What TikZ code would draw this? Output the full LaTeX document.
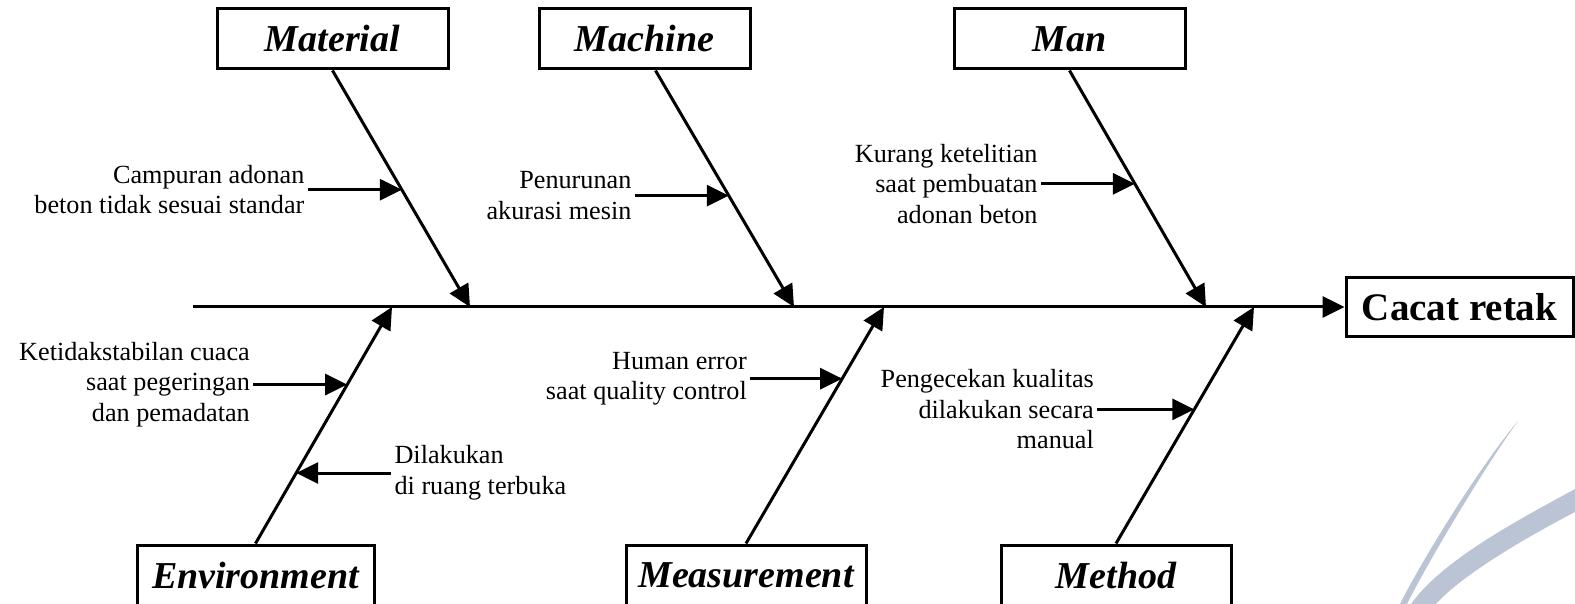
\documentclass[tikz,border=0pt]{standalone}
\usepackage{fontspec}
\setmainfont{Liberation Serif}
\usetikzlibrary{arrows.meta,calc}
\definecolor{wm}{RGB}{186,196,212}
\begin{document}
\begin{tikzpicture}[x=0.5pt,y=-0.5pt,
  box/.style={draw,line width=1.5pt,inner sep=0pt,minimum height=30pt,font=\fontsize{19}{23}\selectfont\bfseries\itshape},
  lbl/.style={inner xsep=1.5pt,inner ysep=0pt,font=\fontsize{13.1}{15.3}\selectfont},
  arr/.style={line width=1.5pt,-{Triangle[length=11pt,width=10.5pt]}}]
\useasboundingbox (0,0) rectangle (1575,604);
% watermark
\fill[wm] (1518,421) .. controls (1480,466) and (1422,560) .. (1400,604) -- (1407,604) .. controls (1428,562) and (1484,468) .. (1518,421) -- cycle;
\fill[wm] (1575,489) .. controls (1520,519) and (1442,560) .. (1411,604) -- (1436,604) .. controls (1462,575) and (1525,538) .. (1575,512) -- cycle;

% head and spine
\node[box,minimum width=113.5pt,minimum height=29.5pt,font=\fontsize{19.5}{23}\selectfont\bfseries] (cacat) at (1459.5,307) {Cacat retak};
\coordinate (spS) at (193,307);
\draw[arr] (spS) -- (cacat.west);

% category boxes
\node[box,minimum width=115.5pt] (matB) at (332.5,39) {Material};
\node[box,minimum width=105.5pt] (machB) at (644.5,39) {Machine};
\node[box,minimum width=115.5pt] (manB) at (1069.5,39) {Man};
\node[box,minimum width=118.5pt,minimum height=30.5pt] (envB) at (255.5,575.5) {Environment};
\node[box,minimum width=120pt,minimum height=30.5pt] (measB) at (746,575.5) {Measurement};
\node[box,minimum width=115pt,minimum height=30.5pt] (methB) at (1116,575.5) {Method};

% bone ends on spine
\coordinate (matE) at (470,307);
\coordinate (machE) at (794,307);
\coordinate (manE) at (1206,307);
\coordinate (envE) at (392,307);
\coordinate (measE) at (884,307);
\coordinate (methE) at (1254,307);
\coordinate (machS) at ([xshift=5.5pt]machB.south);

% bones
\draw[arr] (matB.south) -- (matE);
\draw[arr] (machS) -- (machE);
\draw[arr] (manB.south) -- (manE);
\draw[arr] (envB.north) -- (envE);
\draw[arr] (measB.north) -- (measE);
\draw[arr] (methB.north) -- (methE);

% sub-cause points on bones
\coordinate (m1) at ($(matB.south)!0.504!(matE)$);
\coordinate (c1) at ($(machS)!0.529!(machE)$);
\coordinate (n1) at ($(manB.south)!0.479!(manE)$);
\coordinate (e1) at ($(envB.north)!0.672!(envE)$);
\coordinate (e2) at ($(envB.north)!0.298!(envE)$);
\coordinate (q1) at ($(measB.north)!0.697!(measE)$);
\coordinate (h1) at ($(methB.north)!0.567!(methE)$);

% sub-cause labels
\node[lbl,anchor=east,align=right] (t1) at ($(m1)+(-94,0)$) {Campuran adonan\\beton tidak sesuai standar};
\node[lbl,anchor=east,align=right] (t2) at ($(c1)+(-94,0)$) {Penurunan\\akurasi mesin};
\node[lbl,anchor=east,align=right] (t3) at ($(n1)+(-94,0)$) {Kurang ketelitian\\saat pembuatan\\adonan beton};
\node[lbl,anchor=east,align=right] (t4) at ($(e1)+(-94,0)$) {Ketidakstabilan cuaca\\saat pegeringan\\dan pemadatan};
\node[lbl,anchor=west,align=left] (t5) at ($(e2)+(95,0)$) {Dilakukan\\di ruang terbuka};
\node[lbl,anchor=east,align=right] (t6) at ($(q1)+(-92,0)$) {Human error\\saat quality control};
\node[lbl,anchor=east,align=right] (t7) at ($(h1)+(-97,0)$) {Pengecekan kualitas\\dilakukan secara\\manual};

% sub-cause arrows
\draw[arr] (t1) -- (m1);
\draw[arr] (t2) -- (c1);
\draw[arr] (t3) -- (n1);
\draw[arr] (t4) -- (e1);
\draw[arr] (t5) -- (e2);
\draw[arr] (t6) -- (q1);
\draw[arr] (t7) -- (h1);
\end{tikzpicture}
\end{document}
